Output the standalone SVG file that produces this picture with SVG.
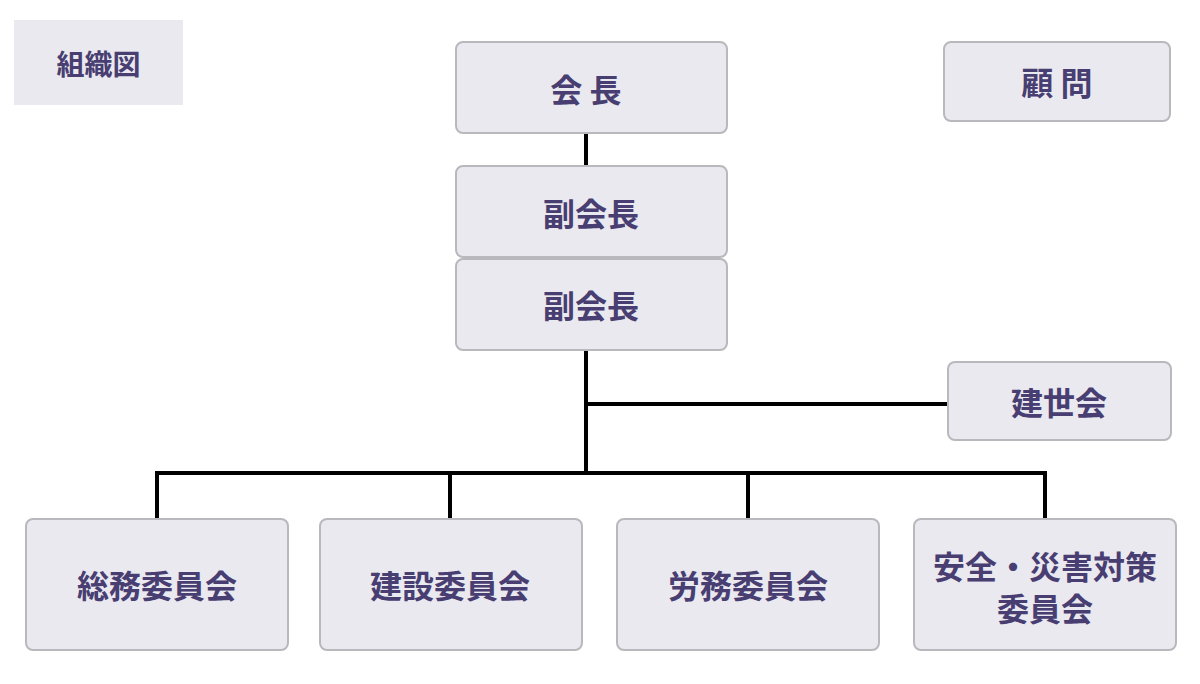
<svg xmlns="http://www.w3.org/2000/svg" width="1200" height="684" viewBox="0 0 1200 684">
<style>
.box{fill:#eae9ef;stroke:#b9b8bc;stroke-width:2}
.t{font-family:"Noto Sans CJK JP","Noto Sans CJK SC",sans-serif;font-weight:bold;font-size:32px;fill:#483e72;text-anchor:middle;dominant-baseline:central}
.ln{stroke:#000;stroke-width:4;fill:none}
</style>
<rect width="1200" height="684" fill="#fff"/>
<g id="title">
<rect x="14" y="20" width="169" height="85" fill="#eae9ef"/>
<text class="t" x="98.5" y="63" style="font-size:28px">組織図</text>
</g>
<g id="connectors">
<line class="ln" x1="586" y1="133" x2="586" y2="166"/>
<line class="ln" x1="586" y1="350" x2="586" y2="475"/>
<line class="ln" x1="586" y1="404" x2="948" y2="404"/>
<polyline class="ln" points="157,518 157,473 1045,473 1045,518"/>
<line class="ln" x1="450" y1="473" x2="450" y2="518"/>
<line class="ln" x1="748" y1="473" x2="748" y2="518"/>
</g>
<g id="kaicho">
<rect class="box" x="456" y="42" width="271" height="91" rx="7"/>
<text class="t" x="586" y="88">会 長</text>
</g>
<g id="fukukaicho1">
<rect class="box" x="456" y="166" width="271" height="91" rx="7"/>
<text class="t" x="591" y="212">副会長</text>
</g>
<g id="fukukaicho2">
<rect class="box" x="456" y="259" width="271" height="91" rx="7"/>
<text class="t" x="591" y="304">副会長</text>
</g>
<g id="komon">
<rect class="box" x="944" y="42" width="226" height="79" rx="7"/>
<text class="t" x="1057" y="81">顧 問</text>
</g>
<g id="kenseikai">
<rect class="box" x="948" y="362" width="223" height="78" rx="7"/>
<text class="t" x="1059" y="401">建世会</text>
</g>
<g id="somu">
<rect class="box" x="26" y="519" width="262" height="131" rx="7"/>
<text class="t" x="157" y="584">総務委員会</text>
</g>
<g id="kensetsu">
<rect class="box" x="320" y="519" width="262" height="131" rx="7"/>
<text class="t" x="450" y="584">建設委員会</text>
</g>
<g id="romu">
<rect class="box" x="617" y="519" width="262" height="131" rx="7"/>
<text class="t" x="748" y="584">労務委員会</text>
</g>
<g id="anzen">
<rect class="box" x="914" y="519" width="262" height="131" rx="7"/>
<text class="t" x="1045" y="565">安全・災害対策</text>
<text class="t" x="1045" y="607">委員会</text>
</g>
</svg>
